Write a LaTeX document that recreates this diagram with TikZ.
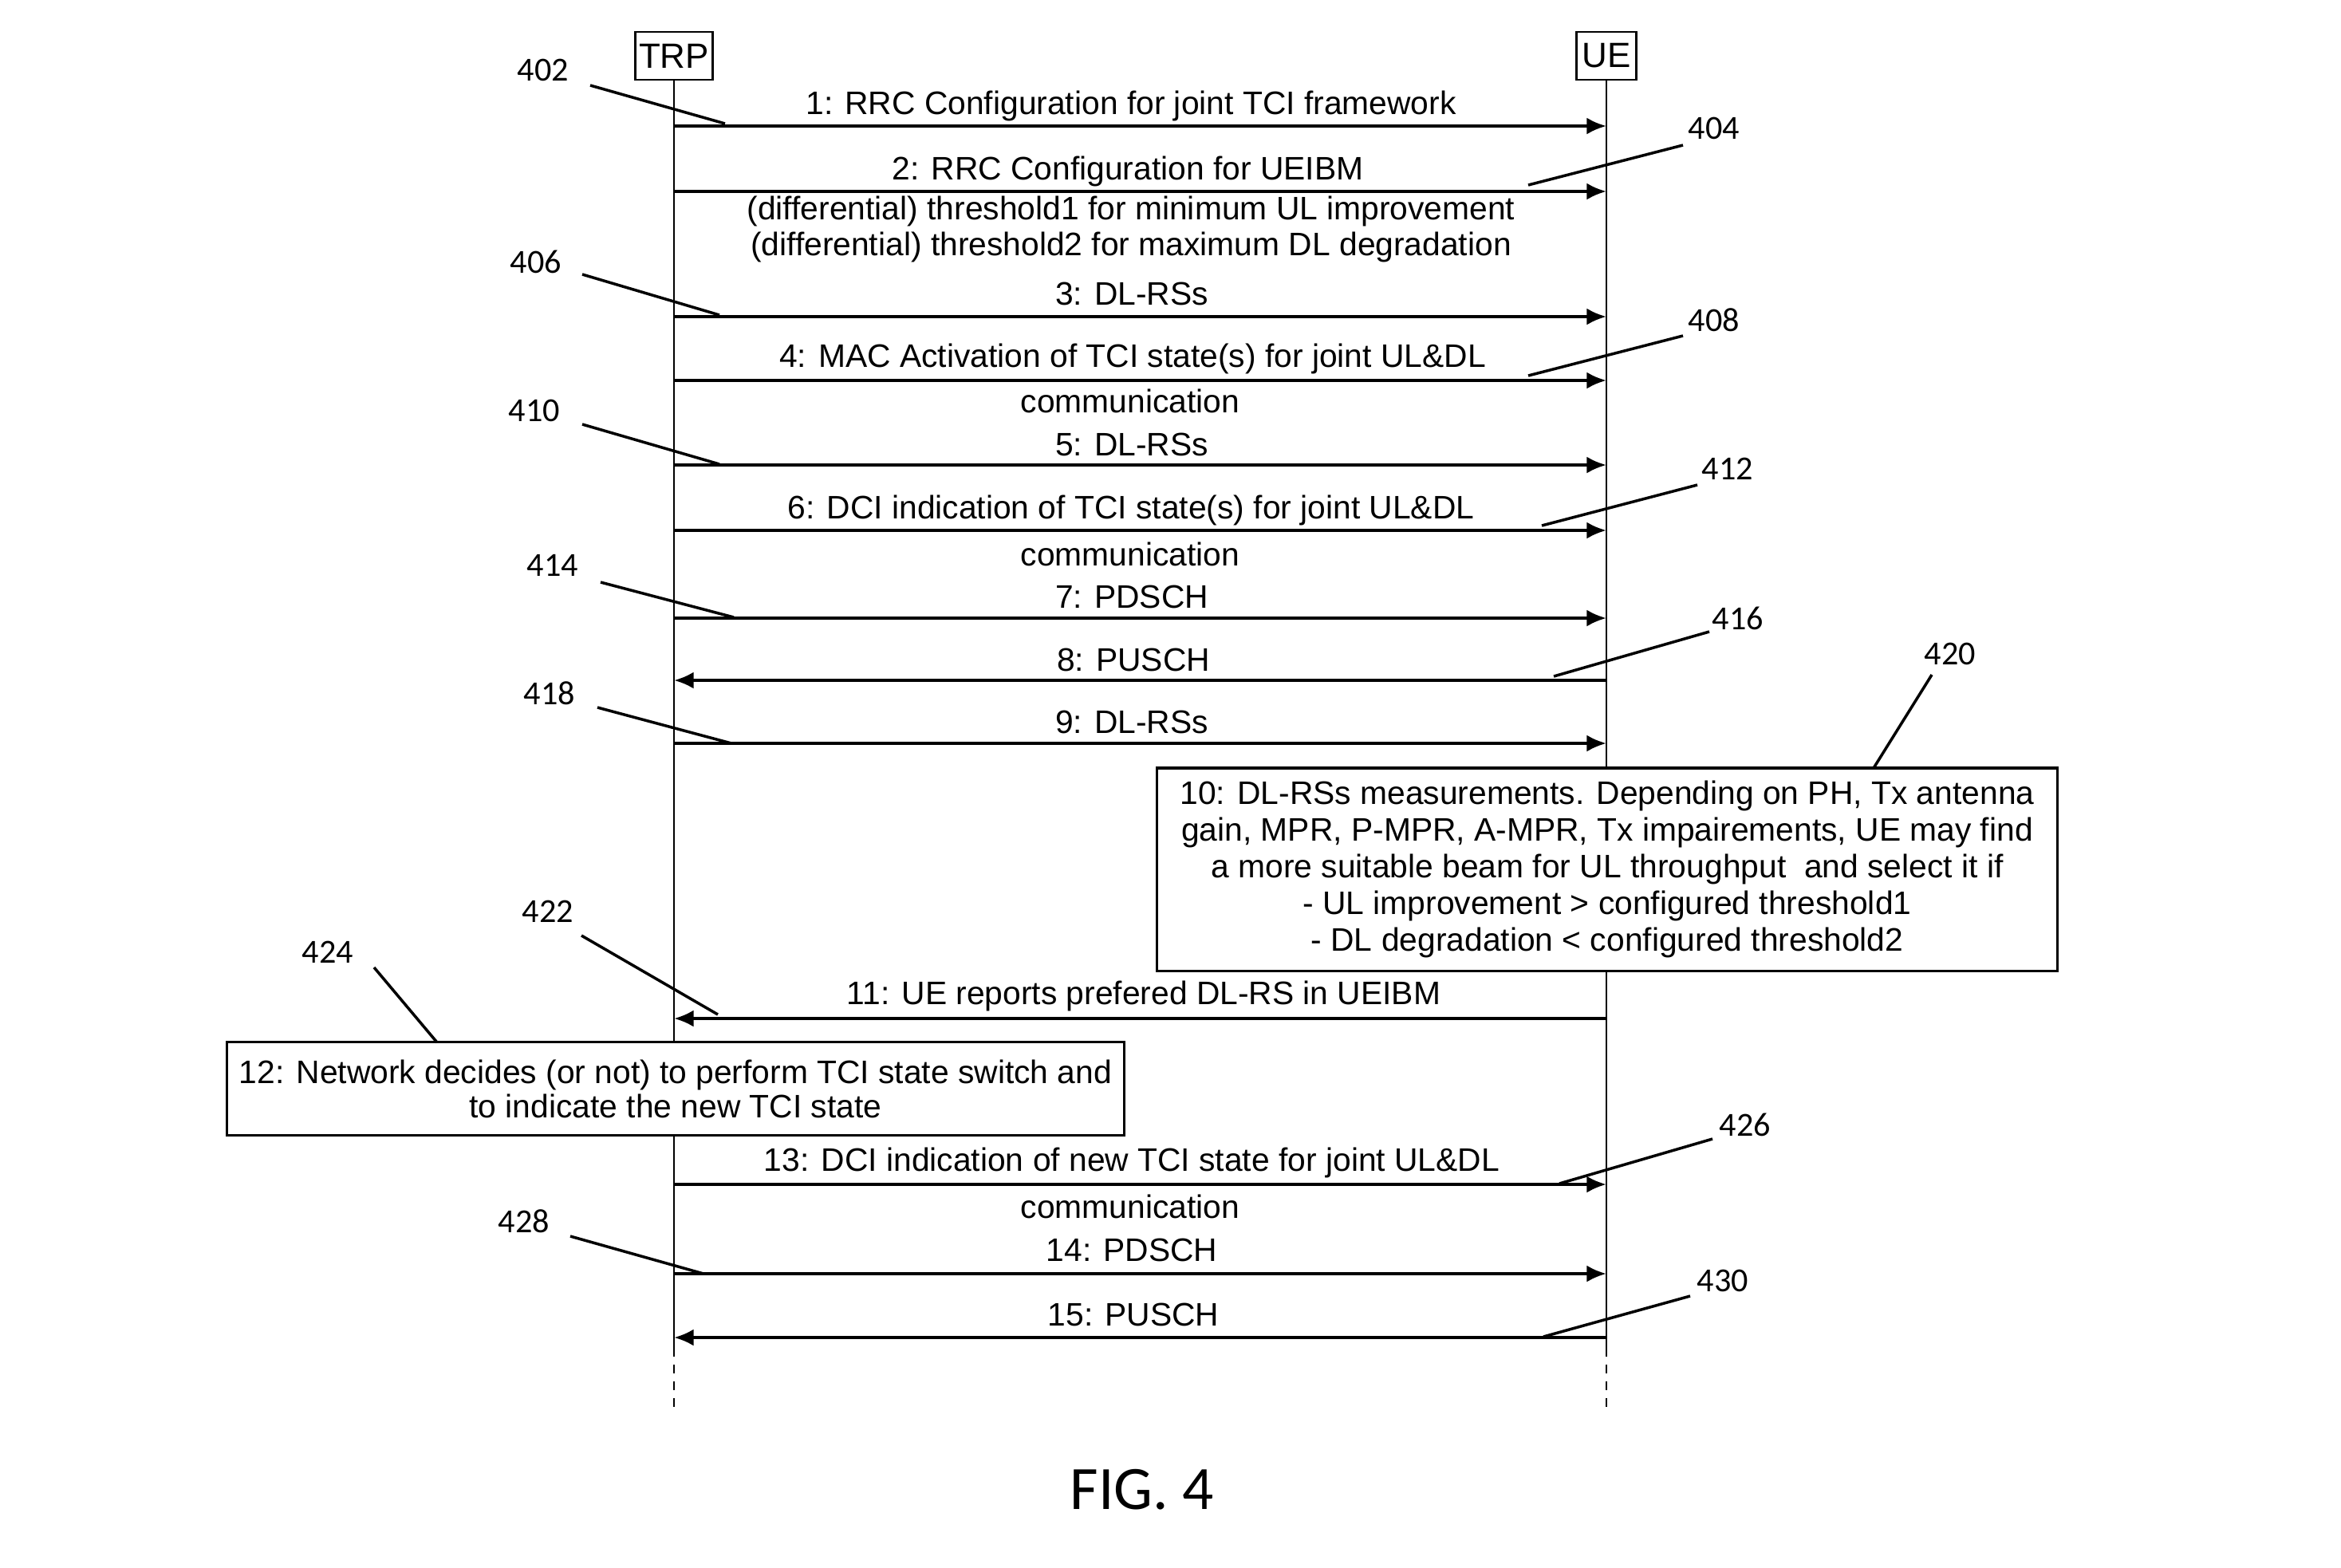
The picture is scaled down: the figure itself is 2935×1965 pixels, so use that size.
\documentclass[tikz,border=0pt]{standalone}
\usepackage{fontspec}
\setmainfont{Liberation Sans}
\newfontfamily\numfont{Carlito}
\usetikzlibrary{arrows.meta}
\begin{document}
\begin{tikzpicture}[x=0.01cm,y=-0.01cm,
  msg/.style={font=\fontsize{11.6}{13}\selectfont, inner sep=0pt, anchor=center},
  actor/.style={draw, line width=0.8pt, inner sep=0pt, font=\fontsize{12.5}{15}\selectfont, minimum height=0.6cm},
  life/.style={line width=0.6pt},
  sig/.style={line width=1.1pt, -{Latex[length=7pt,width=6pt]}},
  lead/.style={line width=1pt},
  refnum/.style={font=\numfont\fontsize{12}{14}\selectfont, inner sep=0pt},
  notebox/.style={draw, fill=white, line width=0.9pt, align=center, inner sep=0pt}
]
\useasboundingbox (0,0) rectangle (2935,1965);

% actors
\node[actor, minimum width=0.97cm] (trp) at (845,70) {TRP};
\node[actor, minimum width=0.75cm] (ue) at (2014,70) {UE};
\coordinate (trpEnd) at (845,1690);
\coordinate (ueEnd) at (2014,1690);
\coordinate (trpBot) at (845,1773);
\coordinate (ueBot) at (2014,1773);
\draw[life] (trp.south) -- (trpEnd);
\draw[life] (ue.south) -- (ueEnd);
\draw[life, dashed] (trpEnd) -- (trpBot);
\draw[life, dashed] (ueEnd) -- (ueBot);

% message end points
\foreach \i/\y in {1/158,2/240,3/397,4/477,5/583,6/665,7/775,8/853,9/932,11/1277,13/1485,14/1597,15/1677}{
  \coordinate (t\i) at (845,\y);
  \coordinate (u\i) at (2014,\y);
}

% notes (drawn before arrows so lifelines are hidden under them)
\node[notebox, minimum width=11.28cm, minimum height=2.54cm, font=\fontsize{11.6}{13.1}\selectfont] (n10) at (2015,1090)
 {10: DL-RSs measurements. Depending on PH, Tx antenna\\
  gain, MPR, P-MPR, A-MPR, Tx impairements, UE may find\\
  a more suitable beam for UL throughput\ \ and select it if\\
  - UL improvement > configured threshold1\\
  - DL degradation < configured threshold2};
\node[notebox, minimum width=11.25cm, minimum height=1.17cm, font=\fontsize{11.6}{12.2}\selectfont] (n12) at (847,1365)
 {12: Network decides (or not) to perform TCI state switch and\\
  to indicate the new TCI state};

% arrows
\draw[sig] (t1) -- (u1);
\draw[sig] (t2) -- (u2);
\draw[sig] (t3) -- (u3);
\draw[sig] (t4) -- (u4);
\draw[sig] (t5) -- (u5);
\draw[sig] (t6) -- (u6);
\draw[sig] (t7) -- (u7);
\draw[sig] (u8) -- (t8);
\draw[sig] (t9) -- (u9);
\draw[sig] (u11) -- (t11);
\draw[sig] (t13) -- (u13);
\draw[sig] (t14) -- (u14);
\draw[sig] (u15) -- (t15);

% message labels
\node[msg] (m1) at (1418,133) {1: RRC Configuration for joint TCI framework};
\node[msg] (m2) at (1414,215) {2: RRC Configuration for UEIBM};
\node[msg] (m2a) at (1418,265) {(differential) threshold1 for minimum UL improvement};
\node[msg] (m2b) at (1418,310) {(differential) threshold2 for maximum DL degradation};
\node[msg] (m3) at (1419,368) {3: DL-RSs};
\node[msg] (m4) at (1420,450) {4: MAC Activation of TCI state(s) for joint UL\&DL};
\node[msg] (m4b) at (1417,503) {communication};
\node[msg] (m5) at (1419,557) {5: DL-RSs};
\node[msg] (m6) at (1418,640) {6: DCI indication of TCI state(s) for joint UL\&DL};
\node[msg] (m6b) at (1417,695) {communication};
\node[msg] (m7) at (1419,748) {7: PDSCH};
\node[msg] (m8) at (1421,827) {8: PUSCH};
\node[msg] (m9) at (1419,905) {9: DL-RSs};
\node[msg] (m11) at (1434,1249) {11: UE reports prefered DL-RS in UEIBM};
\node[msg] (m13) at (1419,1458) {13: DCI indication of new TCI state for joint UL\&DL};
\node[msg] (m13b) at (1417,1513) {communication};
\node[msg] (m14) at (1419,1567) {14: PDSCH};
\node[msg] (m15) at (1421,1648) {15: PUSCH};

% reference numerals and leader lines
\foreach \n/\tx/\ty/\ax/\ay/\bx/\by in {
  402/681/88/740/107/909/155,
  404/2149/161/2110/182/1916/232,
  406/672/328/730/344/902/395,
  408/2149/401/2110/421/1916/471,
  410/670/515/730/532/902/582,
  412/2166/588/2128/608/1933/659,
  414/693/709/753/730/920/774,
  416/2179/775/2143/792/1948/848,
  418/689/869/749/887/917/932,
  420/2445/820/2422/846/2349/963,
  422/687/1143/729/1173/900/1272,
  424/411/1194/469/1213/548/1307,
  426/2188/1410/2147/1428/1955/1484,
  428/657/1531/715/1550/882/1597,
  430/2160/1606/2119/1625/1935/1676}{
  \node[refnum] (r\n) at (\tx,\ty) {\n};
  \coordinate (ra\n) at (\ax,\ay);
  \coordinate (rb\n) at (\bx,\by);
  \draw[lead] (ra\n) -- (rb\n);
}

\node[font=\numfont\fontsize{22}{26}\selectfont, inner sep=0pt] (fig) at (1432,1868) {FIG. 4};
\end{tikzpicture}
\end{document}
